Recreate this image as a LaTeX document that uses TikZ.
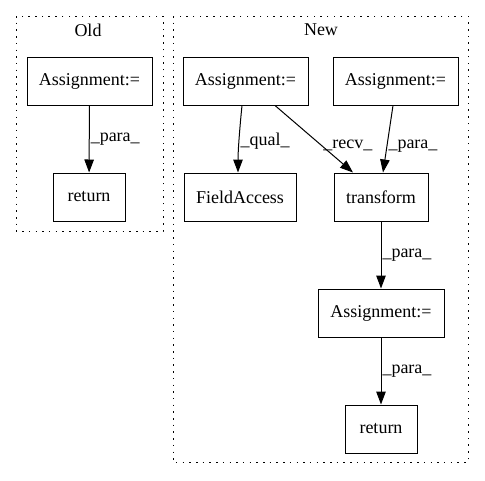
\documentclass[tikz,border=0pt]{standalone}
\usepackage{fontspec}
\setmainfont{Liberation Serif}
\usepackage{tikz}
\usetikzlibrary{positioning,arrows.meta}

\begin{document}
\begin{tikzpicture}[x=1pt, y=-1pt, every node/.style={font=\fontsize{18}{21}\selectfont},
    opbox/.style={draw, line width=1pt, rectangle, minimum height=48pt, inner sep=0pt},
    cluster/.style={line width=1pt, dash pattern=on 1.5pt off 5.2pt},
    flow/.style={-{Triangle[length=13pt,width=9.5pt]}, line width=1pt},
    lbl/.style={right, inner sep=1pt}]
        \useasboundingbox (0,0) rectangle (485,480);

        % Clusters
        \draw[cluster] (16,16) rectangle (163,231);
        \node (oldlbl) at (88,30) {Old};
        \draw[cluster] (173,16) rectangle (468,462);
        \node (newlbl) at (321,30) {New};

        % Old
        \node[opbox, minimum width=125pt] (oasg) at (89.5,81) {Assignment:=};
        \node[opbox, minimum width=72pt] (oret) at (89,197) {return};
        \draw[flow] (oasg) -- node[lbl] {\_para\_} (oret);

        % New: top row
        \node[opbox, minimum width=125pt] (asg1) at (245.5,81) {Assignment:=};
        \node[opbox, minimum width=125pt] (asg2) at (395.5,81) {Assignment:=};

        % New: middle row
        \node[opbox, minimum width=112pt] (fld) at (240,197) {FieldAccess};
        \node[opbox, minimum width=94pt] (trf) at (381,197) {transform};

        \draw[flow] ([xshift=-3.5pt]asg1.south) .. controls (240,125) and (238,150) .. node[lbl, pos=0.55] {\_qual\_} ([xshift=-2pt]fld.north);
        \draw[flow] ([xshift=29.5pt]asg1.south) -- node[lbl, pos=0.6] {\_recv\_} ([xshift=-28pt]trf.north);
        \draw[flow] ([xshift=-2.5pt]asg2.south) -- node[lbl, pos=0.6] {\_para\_} ([xshift=2pt]trf.north);

        % New: bottom
        \node[opbox, minimum width=126pt] (asg3) at (381,313) {Assignment:=};
        \node[opbox, minimum width=72pt] (nret) at (381,429) {return};

        \draw[flow] (trf) -- node[lbl, pos=0.5] {\_para\_} (asg3);
        \draw[flow] (asg3) -- node[lbl, pos=0.5] {\_para\_} (nret);
    \end{tikzpicture}
\end{document}
